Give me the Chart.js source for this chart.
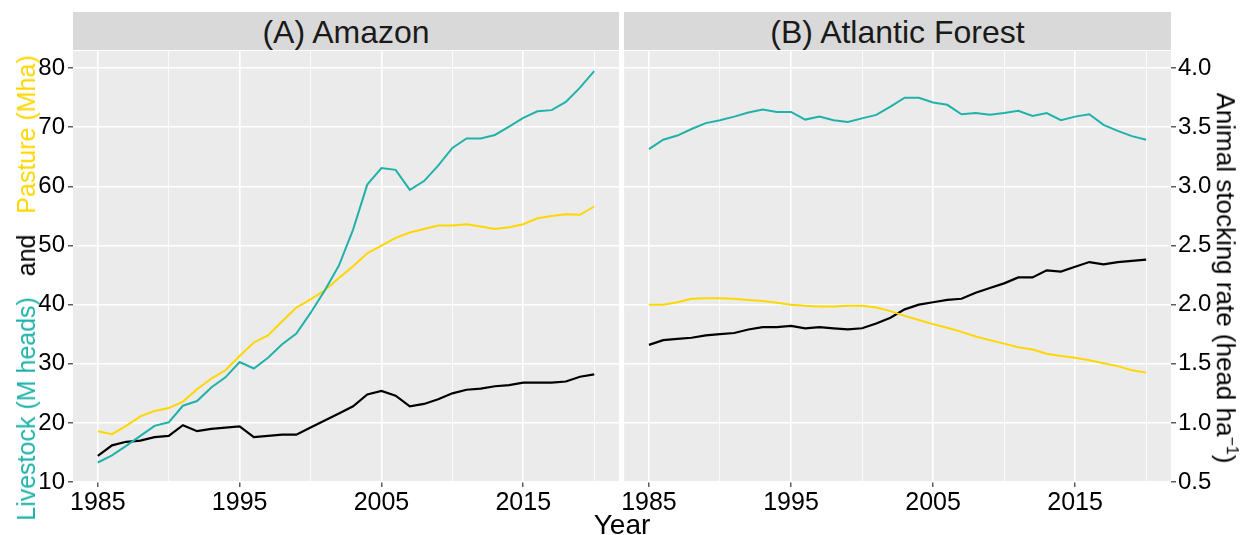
<!DOCTYPE html>
<html>
<head>
<meta charset="utf-8">
<script src="https://cdn.jsdelivr.net/npm/chart.js@4"></script>
<style>
  body { margin: 0; background: #fff; font-family: "Liberation Sans", Arial, sans-serif; }
  #wrap { position: relative; width: 1244px; height: 535px; overflow: hidden; }
  canvas { position: absolute; top: 0; }
  .strip { position: absolute; top: 12px; height: 38px; background: #D9D9D9; color: #1a1a1a;
           font-size: 32px; line-height: 40px; text-align: center; }
  .ytitle { position: absolute; white-space: nowrap; line-height: 28px; }
</style>
</head>
<body>
<div id="wrap">
  <canvas id="amazon" width="620" height="535" style="left:0px"></canvas>
  <canvas id="atlantic" width="624" height="535" style="left:620px"></canvas>
  <div class="strip" style="left:73px; width:546px">(A) Amazon</div>
  <div class="strip" style="left:624px; width:547px">(B) Atlantic Forest</div>
  <div class="ytitle" style="left:26px; top:288px; font-size:25px; transform: translate(-50%,-50%) rotate(-90deg)">
    <span style="color:#20B2AA">Livestock (M heads)</span>&nbsp;&nbsp;&nbsp;and&nbsp;&nbsp;&nbsp;<span style="color:#FFD700">Pasture (Mha)</span>
  </div>
  <div class="ytitle" style="left:1229px; top:278px; font-size:26px; transform: translate(-50%,-50%) rotate(90deg); color:#000">
    Animal stocking rate (head ha<sup style="font-size:16px">−1</sup>)
  </div>
  <div style="position:absolute; left:0; width:1244px; top:509px; text-align:center; font-size:28px; line-height:32px; color:#000">Year</div>
</div>
<script>
var years = [1985,1986,1987,1988,1989,1990,1991,1992,1993,1994,1995,1996,
             1997,1998,1999,2000,2001,2002,2003,2004,2005,2006,2007,2008,
             2009,2010,2011,2012,2013,2014,2015,2016,2017,2018,2019,2020];

var amazonLivestock = [13.3,14.5,16.1,17.8,19.5,20.1,22.9,23.7,26.0,27.7,30.3,29.2,
                       31.0,33.3,35.1,38.6,42.4,46.6,52.7,60.3,63.1,62.8,59.4,60.9,
                       63.5,66.5,68.1,68.1,68.7,70.1,71.6,72.7,72.9,74.3,76.7,79.5];
var amazonPasture = [18.6,18.1,19.5,21.1,22.0,22.5,23.6,25.7,27.5,28.9,31.3,33.6,
                     34.8,37.2,39.5,40.9,42.4,44.5,46.5,48.7,50.0,51.3,52.2,52.8,
                     53.4,53.4,53.6,53.2,52.8,53.1,53.6,54.6,55.0,55.3,55.2,56.6];
var amazonRate = [0.72,0.81,0.84,0.85,0.88,0.89,0.98,0.93,0.95,0.96,0.97,0.88,
                  0.89,0.90,0.90,0.96,1.02,1.08,1.14,1.24,1.27,1.23,1.14,1.16,
                  1.20,1.25,1.28,1.29,1.31,1.32,1.34,1.34,1.34,1.35,1.39,1.41];

var atlanticLivestock = [66.3,67.9,68.6,69.7,70.7,71.2,71.8,72.5,73.0,72.6,72.6,71.3,
                         71.8,71.2,70.9,71.5,72.1,73.5,75.0,75.0,74.2,73.8,72.2,72.4,
                         72.1,72.4,72.8,71.9,72.4,71.2,71.8,72.2,70.4,69.4,68.5,67.9];
var atlanticPasture = [40.0,40.0,40.4,41.0,41.1,41.1,41.0,40.8,40.6,40.3,40.0,39.8,
                       39.7,39.7,39.8,39.8,39.5,38.9,38.1,37.4,36.7,36.1,35.4,34.6,
                       34.0,33.4,32.8,32.4,31.7,31.3,31.0,30.6,30.1,29.6,28.9,28.5];
var atlanticRate = [1.66,1.70,1.71,1.72,1.74,1.75,1.76,1.79,1.81,1.81,1.82,1.80,
                    1.81,1.80,1.79,1.80,1.84,1.89,1.96,2.00,2.02,2.04,2.05,2.10,
                    2.14,2.18,2.23,2.23,2.29,2.28,2.32,2.36,2.34,2.36,2.37,2.38];

// axis breaks (major ones get a label, the rest are minor grid lines)
var xBreaks = [1985,1990,1995,2000,2005,2010,2015,2020];
var xLabels = [1985,1995,2005,2015];
var yBreaks = [10,15,20,25,30,35,40,45,50,55,60,65,70,75,80];
var yLabels = [10,20,30,40,50,60,70,80];
var y2Breaks = [0.5,0.75,1.0,1.25,1.5,1.75,2.0,2.25,2.5,2.75,3.0,3.25,3.5,3.75,4.0];
var y2Labels = [0.5,1.0,1.5,2.0,2.5,3.0,3.5,4.0];

var livestockColour = '#20B2AA';
var pastureColour = '#FFD700';
var rateColour = '#000000';

var fontFamily = '"Liberation Sans", Arial, sans-serif';

var panelBg = {
    id: 'panelBg',
    beforeDraw: function(chart) {
        var a = chart.chartArea, c = chart.ctx;
        c.save();
        c.fillStyle = '#EBEBEB';
        c.fillRect(a.left, a.top, a.right - a.left, a.bottom - a.top);
        c.restore();
    }
};

function toPoints(values) {
    var pts = [];
    for (var i = 0; i < years.length; i++) pts.push({x: years[i], y: values[i]});
    return pts;
}

function gridOpts(majors) {
    return {
        color: '#FFFFFF',
        lineWidth: function(ctx) { return ctx.tick && majors.indexOf(ctx.tick.value) >= 0 ? 1.6 : 0.8; },
        tickColor: function(ctx) { return ctx.tick && majors.indexOf(ctx.tick.value) >= 0 ? '#333333' : 'rgba(0,0,0,0)'; },
        tickLength: 5,
        tickWidth: 1.2
    };
}

function create_panel(canvasId, livestock, pasture, rate, isLeft) {
    var ctx = document.getElementById(canvasId);
    var datasets = [
        {label: 'Livestock', data: toPoints(livestock), yAxisID: 'y', borderColor: livestockColour, borderWidth: 2},
        {label: 'Pasture', data: toPoints(pasture), yAxisID: 'y', borderColor: pastureColour, borderWidth: 2},
        {label: 'Stocking rate', data: toPoints(rate), yAxisID: 'y2', borderColor: rateColour, borderWidth: 2.2}
    ];
    for (var i = 0; i < datasets.length; i++) {
        datasets[i].pointRadius = 0;
        datasets[i].fill = false;
        datasets[i].tension = 0;
    }

    return new Chart(ctx, {
        type: 'line',
        data: { datasets: datasets },
        plugins: [panelBg],
        options: {
            responsive: false,
            animation: false,
            devicePixelRatio: 1,
            layout: { padding: isLeft ? {top: 51, right: 1, left: 0, bottom: 0} : {top: 51, right: 0, left: 3.5, bottom: 0} },
            plugins: { legend: {display: false}, tooltip: {enabled: false} },
            scales: {
                x: {
                    type: 'linear', min: 1983.25, max: 2021.75,
                    afterBuildTicks: function(s) { s.ticks = xBreaks.map(function(v) { return {value: v}; }); },
                    afterFit: function(s) { s.height = 53; },
                    border: {display: false},
                    grid: gridOpts(xLabels),
                    ticks: {
                        autoSkip: false, maxRotation: 0, padding: 1, color: '#000',
                        font: {family: fontFamily, size: 25},
                        callback: function(v) { return xLabels.indexOf(v) >= 0 ? String(v) : ''; }
                    }
                },
                y: {
                    position: 'left', display: isLeft, min: 10, max: 82.9,
                    afterBuildTicks: function(s) { s.ticks = yBreaks.map(function(v) { return {value: v}; }); },
                    afterFit: function(s) { s.width = isLeft ? 73 : 0; },
                    border: {display: false},
                    grid: gridOpts(yLabels),
                    ticks: {
                        padding: 3, color: '#000', font: {family: fontFamily, size: 24},
                        callback: function(v) { return yLabels.indexOf(v) >= 0 ? String(v) : ''; }
                    }
                },
                y2: {
                    position: 'right', display: !isLeft, min: 0.5, max: 4.145,
                    afterBuildTicks: function(s) { s.ticks = y2Breaks.map(function(v) { return {value: v}; }); },
                    afterFit: function(s) { s.width = isLeft ? 0 : 73; },
                    border: {display: false},
                    grid: gridOpts(y2Labels),
                    ticks: {
                        padding: 2, color: '#000', font: {family: fontFamily, size: 24},
                        callback: function(v) { return y2Labels.indexOf(v) >= 0 ? v.toFixed(1) : ''; }
                    }
                }
            }
        }
    });
}

create_panel('amazon', amazonLivestock, amazonPasture, amazonRate, true);
create_panel('atlantic', atlanticLivestock, atlanticPasture, atlanticRate, false);
</script>
</body>
</html>
